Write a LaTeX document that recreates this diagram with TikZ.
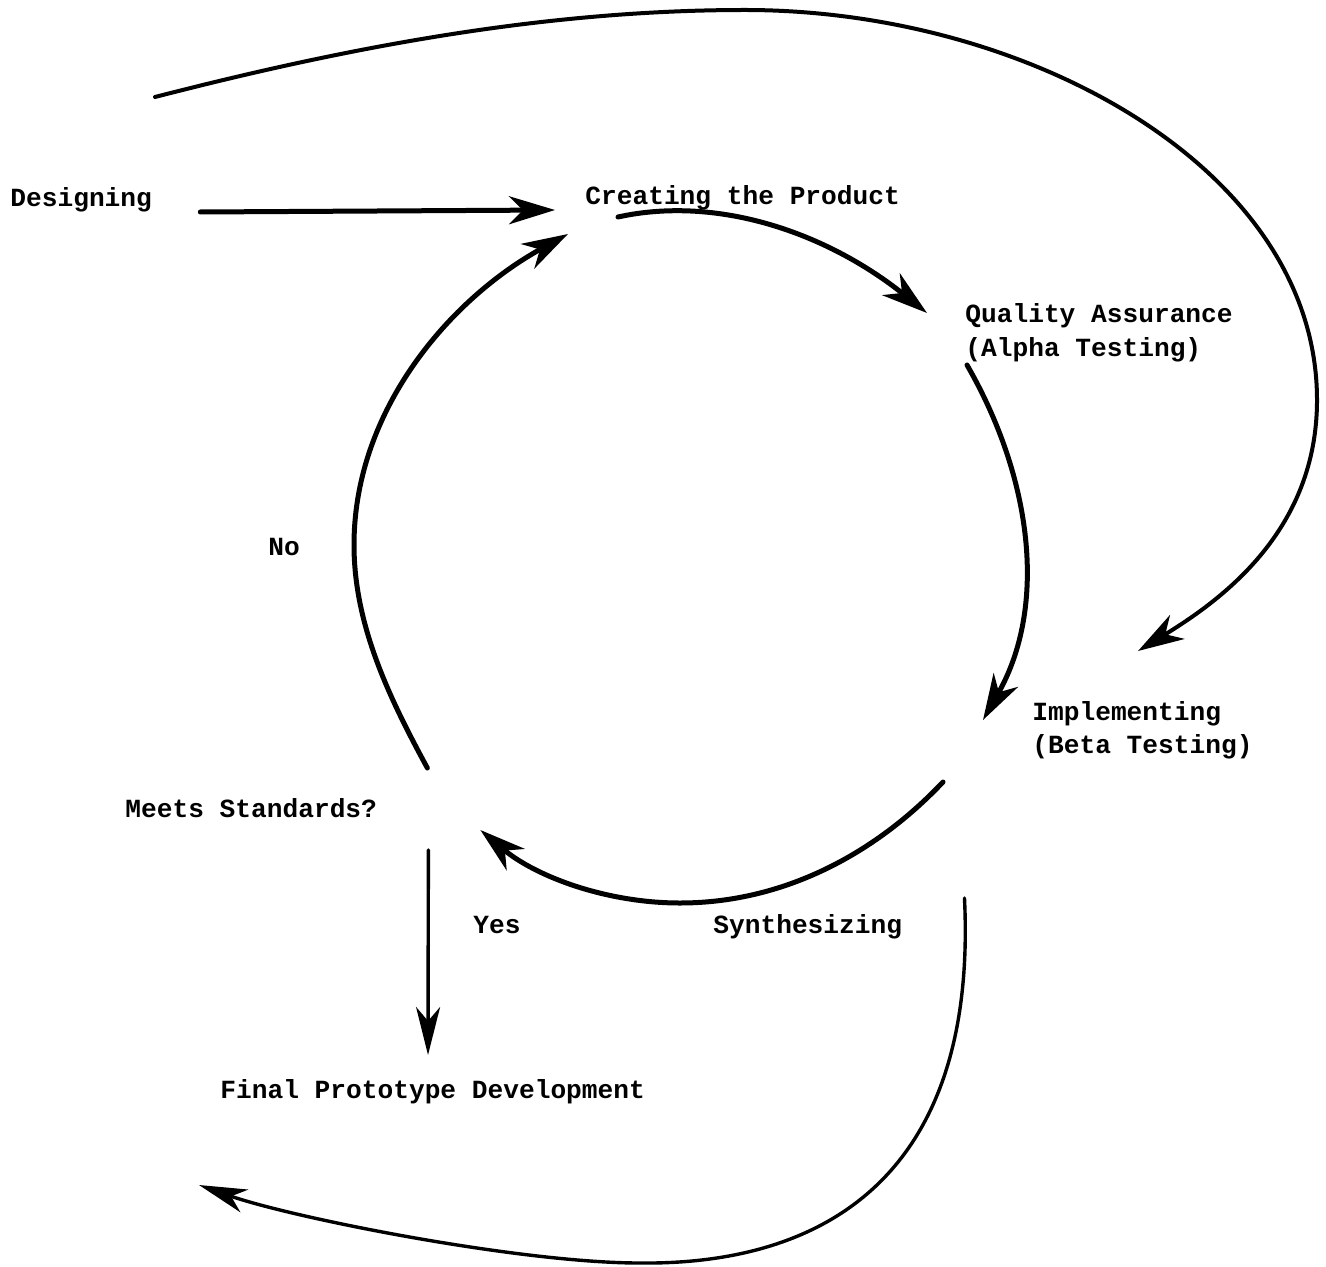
\documentclass[tikz,border=0pt]{standalone}
\usepackage{fontspec}
\setmainfont{Liberation Mono}
\usetikzlibrary{arrows.meta}

\tikzset{
    lbl/.style={anchor=base west, inner sep=0pt, font=\fontsize{13.1pt}{16pt}\selectfont\bfseries},
    flow/.style={line width=2.5pt, line cap=round, -{Stealth[length=23pt, width=14pt, inset=7pt]}},
    loopflow/.style={line width=2pt, line cap=round, -{Stealth[length=23pt, width=14pt, inset=7pt]}},
    thinflow/.style={line width=1.7pt, line cap=round, -{Stealth[length=24pt, width=12pt, inset=7pt]}},
}

\begin{document}
\begin{tikzpicture}[x=0.5pt, y=-0.5pt]
    \useasboundingbox (0,0) rectangle (1326,1267);

    % Labels
    \node[lbl] (design) at (10,207) {Designing};
    \node[lbl] (create) at (585,205) {Creating the Product};
    \node[lbl] (qa) at (965,322) {Quality Assurance};
    \node[lbl] (alpha) at (965,357) {(Alpha Testing)};
    \node[lbl] (no) at (268,555) {No};
    \node[lbl] (impl) at (1032,720) {Implementing};
    \node[lbl] (beta) at (1032,753) {(Beta Testing)};
    \node[lbl] (meets) at (125,817) {Meets Standards?};
    \node[lbl] (yes) at (473,933) {Yes};
    \node[lbl] (synth) at (713,933) {Synthesizing};
    \node[lbl] (final) at (220,1098) {Final Prototype Development};
    \coordinate (loopend) at (199,1185);

    % Cycle
    \draw[flow] ([shift={(48,5)}]design.base east) -- ([shift={(-30,5)}]create.base west);
    \draw[flow] ([shift={(33,12)}]create.base west) .. controls +(100,-22) and +(-100,-80) .. ([shift={(-38,-9)}]qa.base west);
    \draw[flow] ([shift={(2,8)}]alpha.base west) .. controls +(65,113) and +(65,-114) .. ([shift={(-49,0)}]impl.base west);
    \draw[flow] ([shift={(-89,29)}]beta.base west) .. controls +(-70,74) and (781,903) .. (680,903)
        .. controls (607,903) and +(56,47) .. ([shift={(103,13)}]meets.base east);
    \draw[flow] ([shift={(50,-49)}]meets.base east) .. controls +(-38,-70) and (354,625) .. (354,545)
        .. controls (354,410) and +(-118,65) .. ([shift={(-17,29)}]create.base west);

    % Yes branch
    \draw[thinflow] ([shift={(51,33)}]meets.base east) -- ([shift={(208,-43)}]final.base west);

    % Outer loops
    \draw[loopflow] ([shift={(145,-110)}]design.base west) .. controls +(194,-50) and (545,10) .. (745,10)
        .. controls (1030,10) and (1317,170) .. (1317,400)
        .. controls (1317,530) and +(85,-52) .. ([shift={(106,-69)}]impl.base west);
    \draw[thinflow] ([shift={(62,-35)}]synth.base east) .. controls (978,1180) and (820,1265) .. (640,1263)
        .. controls (520,1263) and (293,1218) .. (loopend);
\end{tikzpicture}
\end{document}
